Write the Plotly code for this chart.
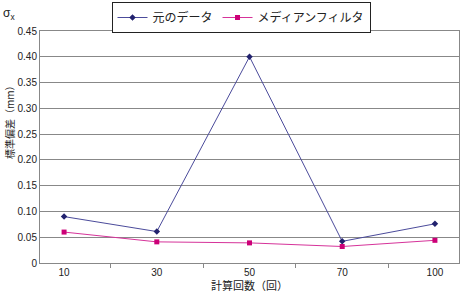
import plotly.graph_objects as go

categories = ["10", "30", "50", "70", "100"]
original = [0.090, 0.061, 0.400, 0.042, 0.076]
median = [0.060, 0.041, 0.039, 0.032, 0.044]
ytick_vals = [0, 0.05, 0.10, 0.15, 0.20, 0.25, 0.30, 0.35, 0.40, 0.45]
ytick_text = ["0", "0.05", "0.10", "0.15", "0.20", "0.25", "0.30", "0.35", "0.40", "0.45"]

font_family = "Liberation Sans, Noto Sans CJK JP, sans-serif"
jp_font = "Noto Sans CJK JP, sans-serif"

L, R, T, B = 40, 3, 31, 32
W, H = 462, 295
PW, PH = W - L - R, H - T - B

fig = go.Figure()
fig.add_trace(go.Scatter(
    x=categories, y=original, name="元のデータ", mode="lines+markers",
    line=dict(color="#4b4b9b", width=1),
    marker=dict(symbol="diamond", size=5, color="#22226e"),
))
fig.add_trace(go.Scatter(
    x=categories, y=median, name="メディアンフィルタ", mode="lines+markers",
    line=dict(color="#d6339a", width=1),
    marker=dict(symbol="square", size=5, color="#cc0077"),
))

fig.update_layout(
    width=W, height=H,
    margin=dict(l=L, r=R, t=T, b=B, autoexpand=False),
    paper_bgcolor="white", plot_bgcolor="white",
    font=dict(family=font_family, size=10, color="#222"),
    showlegend=True,
    legend=dict(
        orientation="h", xref="paper", yref="paper",
        x=(241 - L) / PW, xanchor="center", y=1 + (T - 2) / PH, yanchor="top",
        bordercolor="#222", borderwidth=1, bgcolor="white",
        font=dict(family="Liberation Sans, Noto Sans CJK JP", size=12, color="#222"),
    ),
    xaxis=dict(
        type="category", tickson="boundaries", ticks="outside", ticklen=4,
        tickcolor="#888", showline=True, linecolor="#888", mirror=True,
        showgrid=False, tickfont=dict(size=10),
    ),
    yaxis=dict(
        range=[0, 0.45], tickvals=ytick_vals, ticktext=ytick_text,
        showgrid=True, gridcolor="#888", gridwidth=1,
        showline=True, linecolor="#888", mirror=True,
        ticks="", zeroline=False, tickfont=dict(size=10),
    ),
    annotations=[
        dict(text="標準偏差（mm）", xref="paper", yref="paper",
             x=(10 - L) / PW, y=(H - B - 120) / PH, textangle=-90, showarrow=False,
             font=dict(family=jp_font, size=10, color="#222"),
             xanchor="center", yanchor="middle"),
        dict(text="計算回数（回）", xref="paper", yref="paper",
             x=(249 - L) / PW, y=-(285 - (H - B)) / PH, showarrow=False,
             xanchor="center", yanchor="middle",
             font=dict(family=jp_font, size=11, color="#222")),
        dict(text="σ<sub>x</sub>", xref="paper", yref="paper",
             x=(1 - L) / PW, y=1 + (T - 24) / PH, showarrow=False,
             xanchor="left", yanchor="bottom",
             font=dict(family=font_family, size=12, color="#222")),
    ],
)

fig.write_html("out.html")
